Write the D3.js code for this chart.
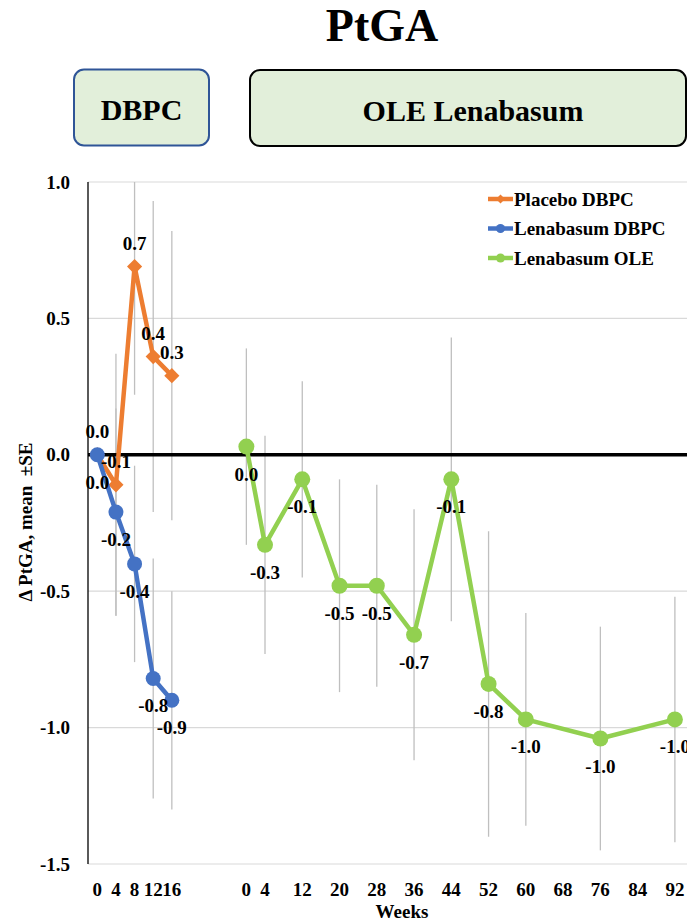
<!DOCTYPE html>
<html>
<head>
<meta charset="utf-8">
<script src="https://cdn.jsdelivr.net/npm/d3@7"></script>
<style>
  body { margin: 0; background: #fff; }
  text { font-family: "Liberation Serif", "Times New Roman", serif; font-weight: bold; }
</style>
</head>
<body>
<div id="graph1"></div>
<script>
// data
const weeks_dbpc = [0, 4, 8, 12, 16];
const placebo_mean = [0.0, -0.11, 0.69, 0.36, 0.29];
const placebo_se = [0, 0.48, 0.47, 0.57, 0.53];
const lena_dbpc_mean = [0.0, -0.21, -0.40, -0.82, -0.90];
const lena_dbpc_se = [0, 0.38, 0.36, 0.44, 0.40];

const weeks_ole = [0, 4, 12, 20, 28, 36, 44, 52, 60, 76, 92];
const lena_ole_mean = [0.03, -0.33, -0.09, -0.48, -0.48, -0.66, -0.09, -0.84, -0.97, -1.04, -0.97];
const lena_ole_se = [0.36, 0.40, 0.36, 0.39, 0.37, 0.46, 0.52, 0.56, 0.39, 0.41, 0.45];

// tick labels
const ticks_dbpc = [0, 4, 8, 12, 16];
const ticks_ole = [0, 4, 12, 20, 28, 36, 44, 52, 60, 68, 76, 84, 92];
const y_ticks = [1.0, 0.5, 0.0, -0.5, -1.0, -1.5];

const OLE_OFFSET = 32; // OLE week 0 sits 32 weeks to the right of DBPC week 0

const width = 687, height = 921;
const plot = { left: 88, right: 687, top: 182, bottom: 864 };

var svg = d3.select("#graph1")
    .append("svg")
    .attr("width", width)
    .attr("height", height);

let x = d3.scaleLinear()
    .domain([-2, 126.6])
    .range([plot.left, plot.right]);

let y = d3.scaleLinear()
    .domain([-1.5, 1.0])
    .range([plot.bottom, plot.top]);

// title
svg.append("text")
    .attr("x", 382)
    .attr("y", 41)
    .style("text-anchor", "middle")
    .style("font-size", "46px")
    .text("PtGA");

// phase boxes
svg.append("rect")
    .attr("x", 74).attr("y", 69.5)
    .attr("width", 135).attr("height", 76)
    .attr("rx", 10)
    .attr("fill", "#e2efda")
    .attr("stroke", "#2f5597")
    .attr("stroke-width", 2);
svg.append("text")
    .attr("x", 141.5).attr("y", 120)
    .style("text-anchor", "middle")
    .style("font-size", "30px")
    .text("DBPC");

svg.append("rect")
    .attr("x", 250).attr("y", 70)
    .attr("width", 436).attr("height", 76)
    .attr("rx", 10)
    .attr("fill", "#e2efda")
    .attr("stroke", "#000")
    .attr("stroke-width", 2);
svg.append("text")
    .attr("x", 473).attr("y", 121)
    .style("text-anchor", "middle")
    .style("font-size", "30px")
    .text("OLE Lenabasum");

// gridlines
svg.append("g")
    .selectAll("line")
    .data(y_ticks)
    .enter()
    .append("line")
    .attr("x1", plot.left).attr("x2", plot.right)
    .attr("y1", function (d) { return y(d) })
    .attr("y2", function (d) { return y(d) })
    .attr("stroke", "#d9d9d9")
    .attr("stroke-width", 1.2);

// y tick labels
svg.append("g")
    .selectAll("text")
    .data(y_ticks)
    .enter()
    .append("text")
    .attr("x", 70)
    .attr("y", function (d) { return y(d) })
    .attr("dy", "0.35em")
    .style("text-anchor", "end")
    .style("font-size", "19px")
    .text(function (d) { return d.toFixed(1) });

// x tick labels (two blocks)
let x_tick_data = ticks_dbpc.map(function (w) { return { pos: w, label: w } })
    .concat(ticks_ole.map(function (w) { return { pos: w + OLE_OFFSET, label: w } }));

svg.append("g")
    .selectAll("text")
    .data(x_tick_data)
    .enter()
    .append("text")
    .attr("x", function (d) { return x(d.pos) })
    .attr("y", 896)
    .style("text-anchor", "middle")
    .style("font-size", "19px")
    .text(function (d) { return d.label });

// axis titles
svg.append("text")
    .attr("x", 402)
    .attr("y", 918)
    .style("text-anchor", "middle")
    .style("font-size", "19px")
    .text("Weeks");

svg.append("text")
    .attr("transform", "translate(32, 522) rotate(-90)")
    .style("text-anchor", "middle")
    .style("font-size", "19px")
    .style("white-space", "pre")
    .text("\u0394 PtGA, mean  \u00b1SE");

// clip for error bars
svg.append("clipPath")
    .attr("id", "plot-clip")
    .append("rect")
    .attr("x", plot.left).attr("y", plot.top)
    .attr("width", plot.right - plot.left)
    .attr("height", plot.bottom - plot.top);

// build series
function makeSeries(weeks, means, ses, offset) {
    return weeks.map(function (w, i) {
        return { pos: w + offset, mean: means[i], se: ses[i] };
    });
}

let placebo = makeSeries(weeks_dbpc, placebo_mean, placebo_se, 0);
let lena_dbpc = makeSeries(weeks_dbpc, lena_dbpc_mean, lena_dbpc_se, 0);
let lena_ole = makeSeries(weeks_ole, lena_ole_mean, lena_ole_se, OLE_OFFSET);

let series = [
    { name: "Placebo DBPC", color: "#ed7d31", data: placebo, marker: "diamond", labelDy: -17 },
    { name: "Lenabasum DBPC", color: "#4472c4", data: lena_dbpc, marker: "circle", labelDy: 34 },
    { name: "Lenabasum OLE", color: "#92d050", data: lena_ole, marker: "circle", labelDy: 34 }
];

// error bars
let errG = svg.append("g").attr("clip-path", "url(#plot-clip)");
series.forEach(function (s) {
    errG.selectAll(null)
        .data(s.data.filter(function (d) { return d.se > 0 }))
        .enter()
        .append("line")
        .attr("x1", function (d) { return x(d.pos) })
        .attr("x2", function (d) { return x(d.pos) })
        .attr("y1", function (d) { return y(d.mean + d.se) })
        .attr("y2", function (d) { return y(d.mean - d.se) })
        .attr("stroke", "#bfbfbf")
        .attr("stroke-width", 1.3);
});

// zero line
svg.append("line")
    .attr("x1", plot.left).attr("x2", plot.right)
    .attr("y1", y(0)).attr("y2", y(0))
    .attr("stroke", "#000")
    .attr("stroke-width", 3.5);

// y axis line
svg.append("line")
    .attr("x1", plot.left).attr("x2", plot.left)
    .attr("y1", plot.top).attr("y2", plot.bottom)
    .attr("stroke", "#000")
    .attr("stroke-width", 1.3);

let line = d3.line()
    .x(function (d) { return x(d.pos) })
    .y(function (d) { return y(d.mean) });

let diamond = d3.symbol().type(d3.symbolDiamond2).size(150);

function drawMarker(g, type, color, cx, cy, r) {
    if (type == "circle") {
        g.append("circle")
            .attr("cx", cx).attr("cy", cy).attr("r", r)
            .attr("fill", color);
    } else {
        g.append("path")
            .attr("d", d3.symbol().type(d3.symbolDiamond2).size(r * r * 2.6)())
            .attr("transform", "translate(" + cx + "," + cy + ")")
            .attr("fill", color);
    }
}

// lines + markers
series.forEach(function (s) {
    let g = svg.append("g");
    g.append("path")
        .datum(s.data)
        .attr("d", line)
        .attr("fill", "none")
        .attr("stroke", s.color)
        .attr("stroke-width", 4.5)
        .attr("stroke-linejoin", "round");
    s.data.forEach(function (d) {
        drawMarker(g, s.marker, s.color, x(d.pos), y(d.mean), s.name == "Lenabasum OLE" ? 8 : 7.5);
    });
});

// data labels on top
series.forEach(function (s) {
    svg.append("g")
        .selectAll("text")
        .data(s.data)
        .enter()
        .append("text")
        .attr("x", function (d) { return x(d.pos) })
        .attr("y", function (d) { return y(d.mean) + s.labelDy })
        .style("text-anchor", "middle")
        .style("font-size", "19px")
        .text(function (d) { return d.mean.toFixed(1) });
});

// legend
let legend = svg.append("g");
series.forEach(function (s, i) {
    let ly = 199 + i * 29.5;
    legend.append("line")
        .attr("x1", 488).attr("x2", 513)
        .attr("y1", ly).attr("y2", ly)
        .attr("stroke", s.color)
        .attr("stroke-width", 4.5);
    drawMarker(legend, s.marker, s.color, 500.5, ly, 4.5);
    legend.append("text")
        .attr("x", 514)
        .attr("y", ly + 6.5)
        .style("font-size", "19px")
        .text(s.name);
});
</script>
</body>
</html>
